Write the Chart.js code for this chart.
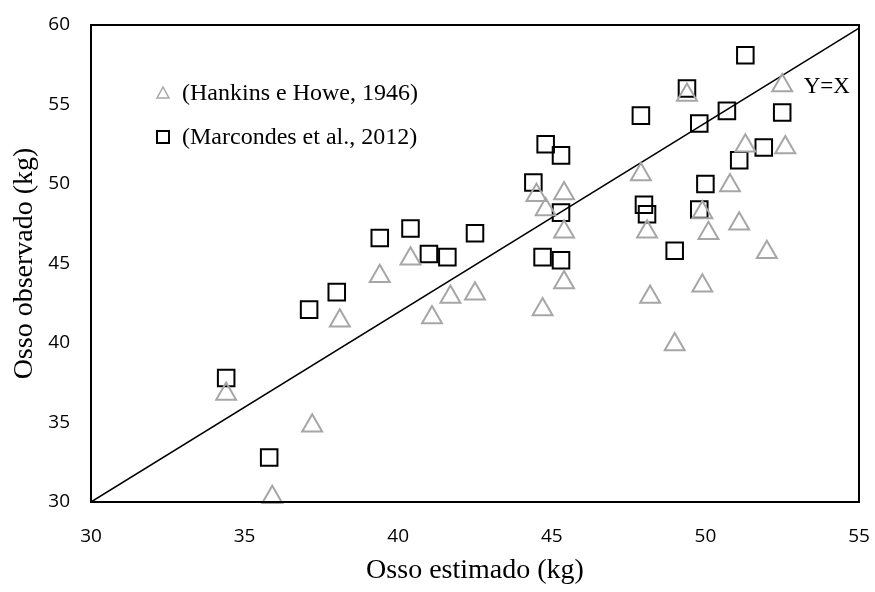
<!DOCTYPE html>
<html lang="pt">
<head>
  <meta charset="UTF-8" />
  <title>Osso estimado vs observado</title>
  <script src="https://cdn.jsdelivr.net/npm/chart.js"></script>
  <style>
    html, body { margin: 0; padding: 0; background: #fff; }
    #wrap { width: 875px; height: 592px; position: relative; }
  </style>
</head>
<body>
  <div id="wrap"><canvas id="chart"></canvas></div>

  <script>
    // Hankins e Howe, 1946 (triangles)
    const hankinsX = [34.4, 35.9, 37.2, 38.1, 39.4, 40.4, 41.1, 41.7, 42.5, 44.5, 44.8, 44.7, 45.4, 45.4, 45.4,
                      47.9, 48.1, 48.2, 49.0, 49.4, 49.9, 49.9, 50.1, 50.8, 51.1, 51.3, 52.0, 52.5, 52.6];
    const hankinsY = [36.8, 30.3, 34.8, 41.4, 44.2, 45.3, 41.6, 42.9, 43.1, 49.3, 48.4, 42.1, 49.4, 47.0, 43.8,
                      50.6, 47.0, 42.9, 39.9, 55.6, 48.2, 43.6, 46.9, 49.9, 47.5, 52.4, 45.7, 56.2, 52.3];

    // Marcondes et al., 2012 (squares)
    const marcondesX = [34.4, 35.8, 37.1, 38.0, 39.4, 40.4, 41.0, 41.6, 42.5, 44.4, 44.8, 45.3, 45.3, 44.7,
                        45.3, 47.9, 48.0, 48.1, 49.0, 49.4, 49.8, 49.8, 50.0, 50.7, 51.1, 51.3, 51.9, 52.5];
    const marcondesY = [37.8, 32.8, 42.1, 43.2, 46.6, 47.2, 45.6, 45.4, 46.9, 50.1, 52.5, 51.8, 48.2, 45.4,
                        45.2, 54.3, 48.7, 48.1, 45.8, 56.0, 53.8, 48.4, 50.0, 54.6, 51.5, 58.1, 52.3, 54.5];

    // reference line labelled Y=X
    const refX = [30, 55];
    const refY = [30, 59.8];
    const refLabel = 'Y=X';
    const refLabelPos = [53.2, 56.1];

    const seriesNames = ['(Hankins e Howe, 1946)', '(Marcondes et al., 2012)'];
    const xTitle = 'Osso estimado (kg)';
    const yTitle = 'Osso observado (kg)';

    const pts = (xs, ys) => xs.map((x, i) => ({ x: x, y: ys[i] }));

    const serif = "'Liberation Serif', 'Times New Roman', serif";
    const sans = "'Open Sans', 'Liberation Sans', sans-serif";

    // frame, Y=X label and the in-plot legend
    const extras = {
      id: 'extras',
      afterDatasetsDraw(chart) {
        const { ctx, chartArea: a, scales } = chart;
        ctx.save();
        ctx.strokeStyle = '#000';
        ctx.lineWidth = 2;
        ctx.strokeRect(a.left, a.top, a.right - a.left, a.bottom - a.top);

        ctx.fillStyle = '#000';
        ctx.font = '23px ' + serif;
        ctx.textBaseline = 'middle';
        ctx.textAlign = 'left';
        ctx.fillText(refLabel, scales.x.getPixelForValue(refLabelPos[0]), scales.y.getPixelForValue(refLabelPos[1]));

        // legend
        const lx = a.left + 72, ly1 = a.top + 68, ly2 = a.top + 112;
        ctx.strokeStyle = '#a6a6a6';
        ctx.lineWidth = 1.5;
        ctx.beginPath();
        ctx.moveTo(lx, ly1 - 6);
        ctx.lineTo(lx + 6, ly1 + 5);
        ctx.lineTo(lx - 6, ly1 + 5);
        ctx.closePath();
        ctx.stroke();
        ctx.strokeStyle = '#000';
        ctx.lineWidth = 2;
        ctx.strokeRect(lx - 6, ly2 - 6, 12, 12);
        ctx.font = '24px ' + serif;
        ctx.fillText(seriesNames[0], a.left + 91, ly1 + 1);
        ctx.fillText(seriesNames[1], a.left + 91, ly2 + 1);
        ctx.restore();
      }
    };

    new Chart(document.getElementById('chart'), {
      type: 'scatter',
      data: {
        datasets: [
          {
            label: seriesNames[0],
            data: pts(hankinsX, hankinsY),
            pointStyle: 'triangle',
            pointRadius: 11.5,
            pointBorderWidth: 2,
            pointBorderColor: '#a6a6a6',
            pointBackgroundColor: 'rgba(0,0,0,0)',
            clip: false
          },
          {
            label: seriesNames[1],
            data: pts(marcondesX, marcondesY),
            pointStyle: 'rect',
            pointRadius: 11.7,
            pointBorderWidth: 2,
            pointBorderColor: '#000',
            pointBackgroundColor: 'rgba(0,0,0,0)',
            clip: false
          },
          {
            type: 'line',
            label: refLabel,
            data: pts(refX, refY),
            borderColor: '#000',
            borderWidth: 1.5,
            pointRadius: 0,
            fill: false
          }
        ]
      },
      options: {
        responsive: true,
        maintainAspectRatio: false,
        animation: false,
        layout: { padding: { top: 25, right: 16, left: 0, bottom: 0 } },
        plugins: { legend: { display: false }, tooltip: { enabled: false } },
        scales: {
          x: {
            type: 'linear', min: 30, max: 55,
            ticks: { stepSize: 5, color: '#000', padding: 23, font: { family: sans, size: 19 } },
            grid: { display: false, drawTicks: false },
            border: { display: false },
            title: { display: true, text: xTitle, color: '#000', font: { family: serif, size: 28 }, padding: { top: 0, bottom: 5 } },
            afterFit: s => { s.height = 90; s.paddingLeft = 0; s.paddingRight = 0; }
          },
          y: {
            type: 'linear', min: 30, max: 60,
            ticks: { stepSize: 5, color: '#000', padding: 21, font: { family: sans, size: 19 } },
            grid: { display: false, drawTicks: false },
            border: { display: false },
            title: { display: true, text: yTitle, color: '#000', font: { family: serif, size: 28 }, padding: { top: 8, bottom: 0 } },
            afterFit: s => { s.width = 91; s.paddingTop = 0; s.paddingBottom = 0; }
          }
        }
      },
      plugins: [extras]
    });
  </script>
</body>
</html>
